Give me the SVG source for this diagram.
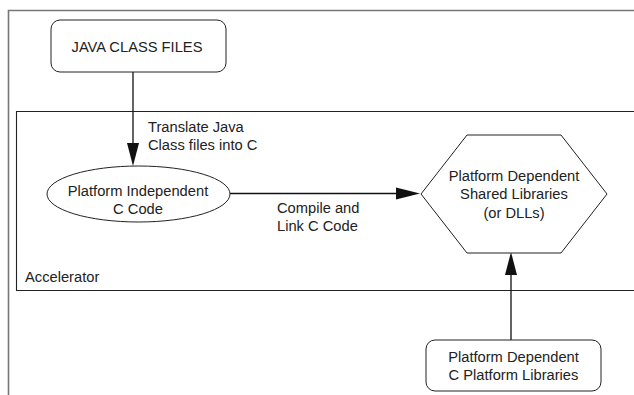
<svg xmlns="http://www.w3.org/2000/svg" width="634" height="395" viewBox="0 0 634 395">
<style>
text{font-family:"Liberation Sans",Arial,sans-serif;font-size:14.7px;fill:#222}
.c{text-anchor:middle}
.shape{fill:#fff;stroke:#222;stroke-width:1}
.conn{stroke:#111;stroke-width:1.3;fill:none}
.head{fill:#111;stroke:none}
</style>
<rect width="634" height="395" fill="#fff"/>
<g id="frame">
<path d="M8.5,395 V10.5 H634" fill="none" stroke="#777" stroke-width="1.6"/>
</g>
<g id="accelerator">
<path d="M634,111.5 H16.5 V290.5 H634" fill="none" stroke="#222" stroke-width="1.1"/>
<text x="25" y="282">Accelerator</text>
</g>
<g id="connectors">
<line class="conn" x1="133" y1="72" x2="133" y2="145"/>
<polygon class="head" points="127,143 139,143 133,166"/>
<text x="148" y="132">Translate Java</text>
<text x="148" y="150">Class files into C</text>
<line class="conn" x1="230" y1="193.5" x2="398" y2="193.5"/>
<polygon class="head" points="396,187.5 396,199.5 420,193.5"/>
<text x="277" y="213">Compile and</text>
<text x="277" y="231">Link C Code</text>
<line class="conn" x1="511" y1="340" x2="511" y2="273"/>
<polygon class="head" points="505,275 517,275 511,252"/>
</g>
<g id="java">
<rect class="shape" x="51" y="20" width="175" height="52" rx="9"/>
<text class="c" x="137" y="51.5">JAVA CLASS FILES</text>
</g>
<g id="ccode">
<ellipse class="shape" cx="138.5" cy="194" rx="91.5" ry="28"/>
<text class="c" x="138" y="196">Platform Independent</text>
<text class="c" x="138" y="213.5">C Code</text>
</g>
<g id="shared">
<polygon class="shape" points="467,135 561,135 607,194 561,253 467,253 421,194"/>
<text class="c" x="514" y="181">Platform Dependent</text>
<text class="c" x="514" y="199">Shared Libraries</text>
<text class="c" x="514" y="217.5">(or DLLs)</text>
</g>
<g id="platlibs">
<rect class="shape" x="426" y="340" width="175" height="51" rx="9"/>
<text class="c" x="513.5" y="362">Platform Dependent</text>
<text class="c" x="513.5" y="380">C Platform Libraries</text>
</g>
</svg>
